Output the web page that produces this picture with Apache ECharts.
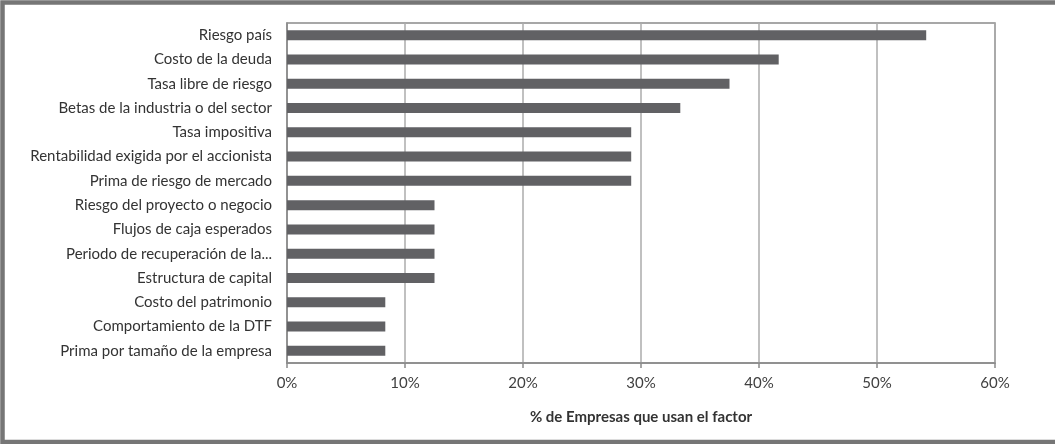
<!DOCTYPE html>
<html>
<head>
<meta charset="utf-8">
<script src="https://cdn.jsdelivr.net/npm/echarts@6/dist/echarts.min.js"></script>
<style>
  html, body { margin: 0; padding: 0; background: #ffffff; }
  #chart { width: 1055px; height: 444px; }
</style>
</head>
<body>
<div id="chart"></div>
<script>
// Factors used to estimate the discount rate, top to bottom
const categories = [
  'Riesgo país',
  'Costo de la deuda',
  'Tasa libre de riesgo',
  'Betas de la industria o del sector',
  'Tasa impositiva',
  'Rentabilidad exigida por el accionista',
  'Prima de riesgo de mercado',
  'Riesgo del proyecto o negocio',
  'Flujos de caja esperados',
  'Periodo de recuperación de la...',
  'Estructura de capital',
  'Costo del patrimonio',
  'Comportamiento de la DTF',
  'Prima por tamaño de la empresa'
];

// Share of companies using each factor (%)
const shares = [54.17, 41.67, 37.5, 33.33, 29.17, 29.17, 29.17, 12.5, 12.5, 12.5, 12.5, 8.33, 8.33, 8.33];

const xTicks = { min: 0, max: 60, interval: 10 };
const xAxisTitle = '% de Empresas que usan el factor';

const chart = echarts.init(document.getElementById('chart'), null, { renderer: 'canvas' });

const font = 'Lato, "Open Sans", sans-serif';

chart.setOption({
  animation: false,
  backgroundColor: '#ffffff',
  graphic: [
    {
      // outer frame around the figure
      type: 'rect',
      left: 0, top: 0,
      shape: { x: 11, y: 6.5, width: 1060, height: 439.5 },
      style: { fill: 'none', stroke: '#767676', lineWidth: 4.5 },
      silent: true
    }
  ],
  grid: {
    left: 287, right: 60, top: 23, bottom: 81,
    show: true,
    borderColor: '#8a8a8a',
    borderWidth: 1.5,
    backgroundColor: 'transparent'
  },
  xAxis: {
    type: 'value',
    min: xTicks.min, max: xTicks.max, interval: xTicks.interval,
    name: xAxisTitle,
    nameLocation: 'middle',
    nameGap: 47,
    nameTextStyle: { fontFamily: font, fontSize: 15, fontWeight: 'bold', color: '#333333' },
    axisLine: { show: true, lineStyle: { color: '#8a8a8a', width: 1.5 } },
    axisTick: { show: true, length: 5, lineStyle: { color: '#8a8a8a', width: 1.5 } },
    axisLabel: {
      margin: 13,
      fontFamily: font, fontSize: 15, color: '#404040',
      formatter: v => v + '%'
    },
    splitLine: { show: true, lineStyle: { color: '#ababab', width: 1.5 } }
  },
  yAxis: {
    type: 'category',
    data: categories,
    inverse: true,
    axisLine: { show: true, lineStyle: { color: '#8a8a8a', width: 1.5 } },
    axisTick: { show: false },
    axisLabel: { margin: 15, fontFamily: font, fontSize: 15, color: '#333333' }
  },
  series: [
    {
      type: 'bar',
      data: shares,
      barWidth: 10,
      itemStyle: { color: '#616164' },
      silent: true
    }
  ]
});
</script>
</body>
</html>
